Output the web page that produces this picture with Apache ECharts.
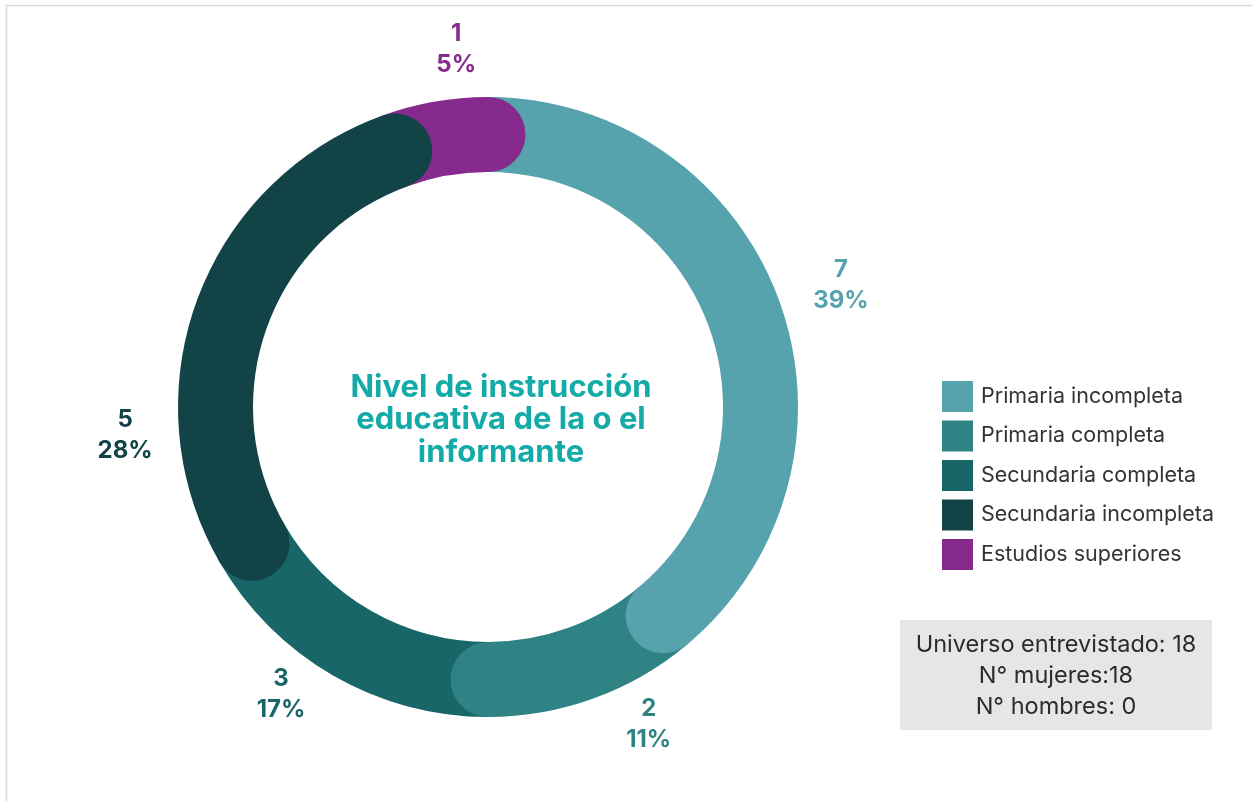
<!DOCTYPE html>
<html>
<head>
<meta charset="utf-8">
<script src="https://cdn.jsdelivr.net/npm/echarts@6/dist/echarts.min.js"></script>
<style>
  html, body { margin: 0; padding: 0; background: #fff; }
  #chart { width: 1252px; height: 801px; }
</style>
</head>
<body>
<div id="chart"></div>
<script>
'use strict';

// data
var categories = ['Primaria incompleta', 'Primaria completa', 'Secundaria completa', 'Secundaria incompleta', 'Estudios superiores'];
var counts = [7, 2, 3, 5, 1];
var percents = [39, 11, 17, 28, 5];
var colors = ['#56a3ae', '#2f8385', '#186668', '#124346', '#862a8e'];
// which segment sits on top where the rounded ends overlap
var layer = [3, 2, 1, 5, 4];
// hand placement of the value labels (the original nudges them off the mid angle)
var labelNudge = [[24, -2], [41, -12], [-32, -16], [-34, 148], [29, -13]];

var total = counts.reduce(function (a, b) { return a + b; }, 0);
var FONT = 'Inter, "Noto Sans", sans-serif';

var series = categories.map(function (name, i) {
  return {
    name: name,
    type: 'bar',
    coordinateSystem: 'polar',
    stack: 'ring',
    roundCap: true,
    barWidth: '100%',
    z: layer[i],
    itemStyle: { color: colors[i] },
    label: {
      show: true,
      position: 'endArc',
      distance: 40,
      rotate: 0,
      offset: labelNudge[i],
      align: 'center',
      verticalAlign: 'middle',
      color: colors[i],
      fontFamily: FONT,
      fontWeight: 'bold',
      fontSize: 24,
      lineHeight: 31,
      formatter: function () {
        return counts[i] + '\n' + percents[i] + '%';
      }
    },
    emphasis: { disabled: true },
    data: [counts[i]]
  };
});

var chart = echarts.init(document.getElementById('chart'));
chart.setOption({
  animation: false,
  polar: { center: [488, 407], radius: [235, 310] },
  angleAxis: {
    type: 'value', min: 0, max: total, startAngle: 90, clockwise: true,
    show: false
  },
  radiusAxis: { type: 'category', data: ['ring'], show: false },
  legend: {
    orient: 'vertical',
    left: 937,
    top: 376,
    icon: 'rect',
    itemWidth: 31,
    itemHeight: 31,
    itemGap: 8.5,
    selectedMode: false,
    textStyle: { fontFamily: FONT, fontSize: 21.5, color: '#333', padding: [0, 0, 0, 3] },
    data: categories
  },
  graphic: [
    {
      type: 'rect', silent: true,
      shape: { x: 6.5, y: 5.5, width: 1400, height: 1000 },
      style: { fill: null, stroke: '#dadada', lineWidth: 1.5 }
    },
    {
      type: 'text', silent: true,
      style: {
        x: 501, y: 420,
        text: 'Nivel de instrucción\neducativa de la o el\ninformante',
        align: 'center', verticalAlign: 'middle',
        fill: '#13aaa8', font: 'bold 31px ' + FONT, lineHeight: 32.5
      }
    },
    {
      type: 'rect', silent: true,
      shape: { x: 900, y: 620, width: 312, height: 110 },
      style: { fill: '#e6e6e8' }
    },
    {
      type: 'text', silent: true,
      style: {
        x: 1056, y: 676,
        text: 'Universo entrevistado: 18\nN° mujeres:18\nN° hombres: 0',
        align: 'center', verticalAlign: 'middle',
        fill: '#2b2b2b', font: '23.5px ' + FONT, lineHeight: 31
      }
    }
  ],
  series: series
});
</script>
</body>
</html>
